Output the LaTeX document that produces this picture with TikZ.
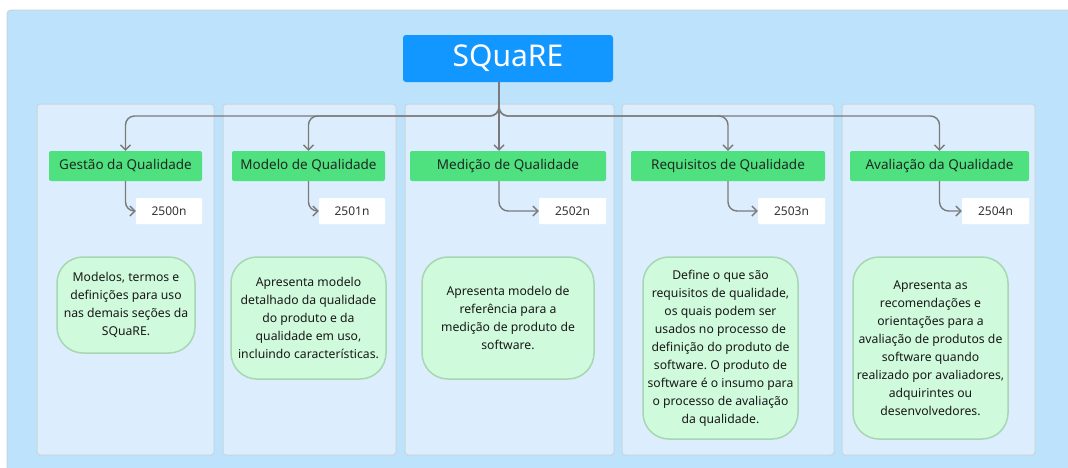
\documentclass[tikz,border=0pt]{standalone}
\usepackage{fontspec}
\setmainfont{Noto Sans}
\frenchspacing
\usetikzlibrary{arrows.meta,calc}
\definecolor{outerbg}{HTML}{BDE2FB}
\definecolor{lanebg}{HTML}{DCEEFD}
\definecolor{laneline}{HTML}{C9D4DC}
\definecolor{titleblue}{HTML}{1296FF}
\definecolor{hdrgreen}{HTML}{4FE080}
\definecolor{bubfill}{HTML}{D0FADC}
\definecolor{bubline}{HTML}{A6D6B2}
\definecolor{arrgray}{HTML}{7A7A7A}
\definecolor{txtdark}{HTML}{1F2A22}
\tikzset{
  lanebox/.style={draw=laneline,fill=lanebg,line width=1pt,rounded corners=3pt},
  hdr/.style={fill=hdrgreen,rounded corners=2pt,text=txtdark,font=\fontsize{13.5}{16}\selectfont,inner sep=0pt},
  numbox/.style={fill=white,rounded corners=1pt,text=black!80,font=\fontsize{12}{14}\selectfont,inner sep=0pt},
  bubble/.style={draw=bubline,fill=bubfill,line width=1.5pt,rounded corners=26pt,align=center,text=black!90,font=\fontsize{12.2}{18}\selectfont,inner sep=0pt},
  arr/.style={draw=arrgray,line width=1.4pt,-{Straight Barb[length=5pt,width=10pt,line width=1.4pt]}},
}
\begin{document}
\begin{tikzpicture}[x=1pt,y=-1pt]
\useasboundingbox (0,0) rectangle (1068,467);
\fill[white] (0,0) rectangle (1068,467);
\draw[draw=laneline,fill=outerbg,rounded corners=4pt,line width=1pt] (7,10) rectangle (1080,480);
% lanes
\draw[lanebox] (37,104) rectangle (214,455);
\draw[lanebox] (223,104) rectangle (396,455);
\draw[lanebox] (405,104) rectangle (614,455);
\draw[lanebox] (622,104) rectangle (834,455);
\draw[lanebox] (842,104) rectangle (1035,455);
% title
\node[fill=titleblue,rounded corners=3pt,text=white,font=\fontsize{30}{34}\selectfont,minimum width=210pt,minimum height=47pt,inner sep=0pt] (title) at (508,58.5) {SQuaRE};
% headers
\node[hdr,minimum width=153pt,minimum height=30pt] (h1) at (125.5,166) {Gestão da Qualidade};
\node[hdr,minimum width=153pt,minimum height=30pt] (h2) at (308.5,166) {Modelo de Qualidade};
\node[hdr,minimum width=196pt,minimum height=30pt] (h3) at (508,166) {Medição de Qualidade};
\node[hdr,minimum width=194pt,minimum height=30pt] (h4) at (728,166) {Requisitos de Qualidade};
\node[hdr,minimum width=179pt,minimum height=30pt] (h5) at (939.5,166) {Avaliação da Qualidade};
% numbers
\node[numbox,minimum width=66pt,minimum height=26pt] (n1) at (169,211) {2500n};
\node[numbox,minimum width=66pt,minimum height=26pt] (n2) at (352,211) {2501n};
\node[numbox,minimum width=67pt,minimum height=26pt] (n3) at (572.5,211) {2502n};
\node[numbox,minimum width=67pt,minimum height=26pt] (n4) at (791.5,211) {2503n};
\node[numbox,minimum width=67pt,minimum height=26pt] (n5) at (995.5,211) {2504n};
% bubbles
\node[bubble,minimum width=138pt,minimum height=96pt] (b1) at (126,305) {Modelos, termos e\\definições para uso\\nas demais seções da\\SQuaRE.};
\node[bubble,minimum width=155pt,minimum height=122pt] (b2) at (308.5,318) {Apresenta modelo\\detalhado da qualidade\\do produto e da\\qualidade em uso,\\incluindo características.};
\node[bubble,minimum width=172pt,minimum height=122pt] (b3) at (508,318) {Apresenta modelo de\\referência para a\\medição de produto de\\software.};
\node[bubble,minimum width=155pt,minimum height=182pt] (b4) at (720.5,348) {Define o que são\\requisitos de qualidade,\\os quais podem ser\\usados no processo de\\definição do produto de\\software. O produto de\\software é o insumo para\\o processo de avaliação\\da qualidade.};
\node[bubble,minimum width=155pt,minimum height=182pt] (b5) at (930.5,348) {Apresenta as\\recomendações e\\orientações para a\\avaliação de produtos de\\software quando\\realizado por avaliadores,\\adquirintes ou\\desenvolvedores.};
% connector anchor points
\coordinate (ts) at ($(title.south)+(-9,0)$);
\coordinate (j) at (ts |- 0,116);
\coordinate (h3top) at ($(h3.north)+(-9,0)$);
\coordinate (h3bot) at ($(h3.south)+(-9,0)$);
% tree connectors
\draw[arr,rounded corners=9pt] (ts) -- (j) -| (h1.north);
\draw[arr,rounded corners=9pt] (ts) -- (j) -| (h2.north);
\draw[arr] (ts) -- (h3top);
\draw[arr,rounded corners=9pt] (ts) -- (j) -| (h4.north);
\draw[arr,rounded corners=9pt] (ts) -- (j) -| (h5.north);
% hook connectors
\draw[arr,rounded corners=9pt] (h1.south) |- (n1.west);
\draw[arr,rounded corners=9pt] (h2.south) |- (n2.west);
\draw[arr,rounded corners=9pt] (h3bot) |- (n3.west);
\draw[arr,rounded corners=9pt] (h4.south) |- (n4.west);
\draw[arr,rounded corners=9pt] (h5.south) |- (n5.west);
\end{tikzpicture}
\end{document}
